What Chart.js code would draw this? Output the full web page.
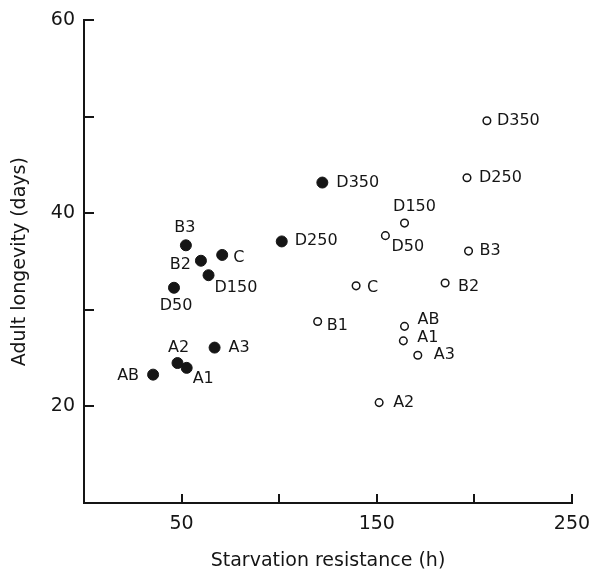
<!DOCTYPE html>
<html>
<head>
<meta charset="utf-8">
<script src="https://cdn.jsdelivr.net/npm/chart.js@4/dist/chart.umd.min.js"></script>
<style>
    html, body { margin: 0; padding: 0; background: #fff; }
    .graph { width: 595px; height: 571px; }
</style>
</head>
<body>
<div class="graph"><canvas id="myChart"></canvas></div>
<script>
// filled circles
const filledNames = ['AB', 'A1', 'A2', 'A3', 'D50', 'D150', 'B2', 'C', 'B3', 'D250', 'D350'];
const filledX = [35.4, 52.6, 47.9, 66.9, 46.1, 63.8, 59.9, 70.8, 52.2, 101.3, 122.1];
const filledY = [23.3, 24.0, 24.5, 26.1, 32.3, 33.6, 35.1, 35.7, 36.7, 37.1, 43.2];

// open circles
const openNames = ['D350', 'D250', 'D150', 'D50', 'B3', 'C', 'B2', 'B1', 'AB', 'A1', 'A3', 'A2'];
const openX = [206.4, 196.2, 164.2, 154.4, 197.0, 139.4, 185.0, 119.7, 164.2, 163.6, 171.0, 151.2];
const openY = [49.6, 43.7, 39.0, 37.7, 36.1, 32.5, 32.8, 28.8, 28.3, 26.8, 25.3, 20.4];

// axes
const xTickMarks = [50, 100, 150, 200, 250];
const xTickLabels = [50, 150, 250];
const yTickMarks = [20, 30, 40, 50, 60];
const yTickLabels = [20, 40, 60];

// where each name sits next to its point: [dx, dy, align]
const filledLabelPos = [
    [-14, 1, 'right'], [6, 11, 'left'], [1, -15, 'center'], [14, 0, 'left'],
    [2, 18, 'center'], [6, 13, 'left'], [-10, 4, 'right'], [11, 3, 'left'],
    [-1, -17, 'center'], [13, -1, 'left'], [14, 0, 'left']
];
const openLabelPos = [
    [10, 0, 'left'], [12, 0, 'left'], [10, -16, 'center'], [6, 11, 'left'],
    [11, 0, 'left'], [11, 2, 'left'], [13, 4, 'left'], [9, 4, 'left'],
    [13, -7, 'left'], [14, -3, 'left'], [16, 0, 'left'], [14, 0, 'left']
];

const ink = '#151515';
const fontName = "'DejaVu Sans', sans-serif";

var toPoints = function (xs, ys) {
    return xs.map((x, i) => ({ x: x, y: ys[i] }));
};

// ticks point inward, as in the original figure
const innerTicks = {
    id: 'innerTicks',
    afterDraw(chart) {
        const ctx = chart.ctx;
        const xs = chart.scales.x, ys = chart.scales.y;
        const area = chart.chartArea;
        ctx.save();
        ctx.strokeStyle = ink;
        ctx.lineWidth = 2;
        ctx.beginPath();
        xTickMarks.forEach(v => {
            const px = Math.round(xs.getPixelForValue(v));
            ctx.moveTo(px, area.bottom);
            ctx.lineTo(px, area.bottom - 9);
        });
        yTickMarks.forEach(v => {
            const py = Math.round(ys.getPixelForValue(v));
            ctx.moveTo(area.left, py);
            ctx.lineTo(area.left + 10, py);
        });
        ctx.stroke();
        ctx.restore();
    }
};

const pointNames = {
    id: 'pointNames',
    afterDatasetsDraw(chart) {
        const ctx = chart.ctx;
        const names = [filledNames, openNames];
        const pos = [filledLabelPos, openLabelPos];
        ctx.save();
        ctx.fillStyle = ink;
        ctx.font = '16px ' + fontName;
        ctx.textBaseline = 'middle';
        chart.data.datasets.forEach((ds, d) => {
            chart.getDatasetMeta(d).data.forEach((pt, i) => {
                const p = pos[d][i];
                ctx.textAlign = p[2];
                ctx.fillText(names[d][i], pt.x + p[0], pt.y + p[1]);
            });
        });
        ctx.restore();
    }
};

let chart = document.querySelector('#myChart').getContext('2d');

let chartNom = new Chart(chart, {
    type: 'scatter',
    data: {
        datasets: [{
            data: toPoints(filledX, filledY),
            backgroundColor: ink,
            borderColor: ink,
            borderWidth: 1,
            pointRadius: 5.5
        }, {
            data: toPoints(openX, openY),
            backgroundColor: '#fff',
            borderColor: ink,
            borderWidth: 1.5,
            pointRadius: 3.8
        }]
    },
    options: {
        responsive: true,
        maintainAspectRatio: false,
        animation: false,
        events: [],
        layout: { padding: { top: 19, right: 23, left: 0, bottom: 0 } },
        plugins: {
            legend: { display: false },
            tooltip: { enabled: false }
        },
        scales: {
            x: {
                type: 'linear',
                min: 0,
                max: 250,
                grid: { display: false, drawTicks: false },
                border: { display: true, color: ink, width: 2 },
                ticks: {
                    stepSize: 50,
                    autoSkip: false,
                    maxRotation: 0,
                    padding: 10,
                    color: ink,
                    font: { family: fontName, size: 19 },
                    callback: v => xTickLabels.includes(v) ? String(v) : ''
                },
                title: {
                    display: true,
                    text: 'Starvation resistance (h)',
                    color: ink,
                    font: { family: fontName, size: 19, lineHeight: 1 },
                    padding: { top: 0, bottom: 0 }
                },
                afterFit(scale) {
                    scale.height = 68;
                    scale.paddingLeft = 0;
                    scale.paddingRight = 0;
                }
            },
            y: {
                type: 'linear',
                min: 10,
                max: 60,
                grid: { display: false, drawTicks: false },
                border: { display: true, color: ink, width: 2 },
                ticks: {
                    stepSize: 10,
                    autoSkip: false,
                    padding: 9,
                    color: ink,
                    font: { family: fontName, size: 19 },
                    callback: v => yTickLabels.includes(v) ? String(v) : ''
                },
                title: {
                    display: true,
                    text: 'Adult longevity (days)',
                    color: ink,
                    font: { family: fontName, size: 19, lineHeight: 1 },
                    padding: { top: 11, bottom: 0 }
                },
                afterFit(scale) { scale.width = 84; }
            }
        }
    },
    plugins: [innerTicks, pointNames]
});
</script>
</body>
</html>
